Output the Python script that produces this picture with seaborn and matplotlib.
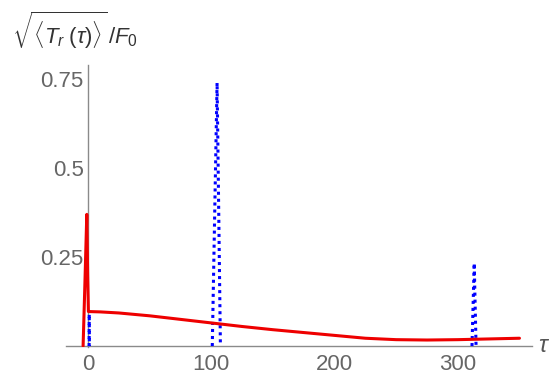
import numpy as np
import pandas as pd
import matplotlib
matplotlib.use('Agg')
import matplotlib.pyplot as plt
import seaborn as sns

# ==================== Data ====================
# red curve: sqrt(<T_r(tau)>)/F0
red_tau = [-4, -2.5, -1, -0.3, 0.3, 10, 25, 50, 75, 100, 125, 150, 175, 200, 225, 250, 275, 300, 325, 350]
red_val = [0.0, 0.18, 0.37, 0.2, 0.097, 0.096, 0.093, 0.085, 0.075, 0.065, 0.055, 0.046, 0.038, 0.030,
           0.022, 0.018, 0.017, 0.018, 0.020, 0.022]

# blue dotted spikes
blue_tau = [0.9, 1.0, 1.1, 100.8, 104.7, 107.4, 311.5, 313.3, 314.8]
blue_val = [0.0, 0.09, 0.0, 0.0, 0.74, 0.0, 0.0, 0.233, 0.0]
blue_spike = [0, 0, 0, 1, 1, 1, 2, 2, 2]

x_ticks = [0, 100, 200, 300]
y_ticks = [0.25, 0.5, 0.75]
y_tick_labels = ['0.25', '0.5', '0.75']

red_df = pd.DataFrame({'tau': red_tau, 'val': red_val})
blue_df = pd.DataFrame({'tau': blue_tau, 'val': blue_val, 'spike': blue_spike})

# ==================== Plot ====================
sns.set_style('white')
plt.rcParams['font.family'] = ['Liberation Sans', 'DejaVu Sans']
plt.rcParams['mathtext.fontset'] = 'custom'
plt.rcParams['mathtext.rm'] = 'Liberation Sans'
plt.rcParams['mathtext.it'] = 'Liberation Sans:italic'

fig = plt.figure(figsize=(5.58, 3.84), dpi=100)
ax = fig.add_axes([0.118, 0.096, 0.835, 0.735])

sns.lineplot(data=blue_df, x='tau', y='val', units='spike', estimator=None, sort=False,
             color='#0000ff', lw=2.2, ax=ax, zorder=2)
for ln in ax.lines:
    ln.set_linestyle((0, (1.0, 1.3)))

sns.lineplot(data=red_df, x='tau', y='val', estimator=None, sort=False,
             color='#ee0000', lw=2.2, ax=ax, zorder=3)

ax.set_xlim(-18, 360)
ax.set_ylim(-0.003, 0.79)

# Mathematica style axes through the origin
for side in ['top', 'right']:
    ax.spines[side].set_visible(False)
ax.spines['left'].set_position(('data', 0))
ax.spines['bottom'].set_position(('data', 0))
for side in ['left', 'bottom']:
    ax.spines[side].set_color('#8a8a8a')
    ax.spines[side].set_linewidth(1.0)
    ax.spines[side].set_zorder(1)

ax.set_xticks(x_ticks)
ax.set_yticks(y_ticks)
ax.set_yticklabels(y_tick_labels)
ax.tick_params(direction='in', length=4, width=1, color='#8a8a8a',
               labelcolor='#666666', labelsize=16)
ax.tick_params(axis='x', pad=6)
ax.tick_params(axis='y', pad=3)
ax.set_xlabel('')
ax.set_ylabel('')

fig.text(0.022, 0.92, r'$\sqrt{\langle T_r\;(\tau)\rangle}\,/F_0$', fontsize=16,
         color='#333333', ha='left', va='center')
fig.text(0.975, 0.1, r'$\tau$', fontsize=17, color='#555555', ha='center', va='center')

fig.savefig('out.png', dpi=100)
